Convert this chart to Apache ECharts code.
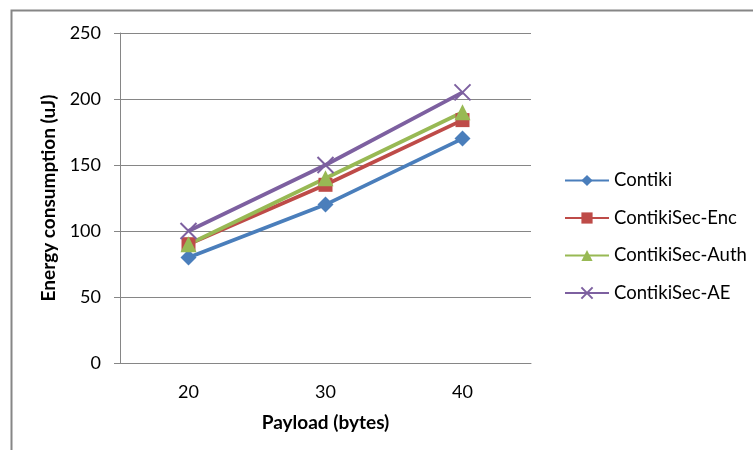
<!DOCTYPE html>
<html><head><meta charset="utf-8">
<script src="https://cdn.jsdelivr.net/npm/echarts@6/dist/echarts.min.js"></script>
<style>html,body{margin:0;padding:0;background:#fff}#c{width:753px;height:450px}</style>
</head><body><div id="c"></div>
<script>
const categories = ['20', '30', '40'];
const contiki = [80, 120, 170];
const contikiSecEnc = [90, 135, 184];
const contikiSecAuth = [90, 140, 190];
const contikiSecAE = [100, 150, 205];
const seriesNames = ['Contiki', 'ContikiSec-Enc', 'ContikiSec-Auth', 'ContikiSec-AE'];

const font = 'Lato, "Open Sans", sans-serif';
const crossPath = 'path://M0,0 L10,10 M10,0 L0,10';
const chart = echarts.init(document.getElementById('c'), null, {renderer: 'canvas'});
chart.setOption({
  animation: false,
  textStyle: {fontFamily: font},
  graphic: [{
    type: 'rect', shape: {x: 11.5, y: 10.5, width: 800, height: 500},
    style: {fill: 'none', stroke: '#868686', lineWidth: 2}, z: -1
  }],
  grid: {left: 120, right: 222, top: 33, bottom: 87, containLabel: false},
  legend: {
    orient: 'vertical', left: 559, top: 166, itemGap: 18.5,
    itemWidth: 44, itemHeight: 14,
    textStyle: {fontSize: 18.5, color: '#000', fontFamily: font},
    data: seriesNames
  },
  xAxis: {
    type: 'category', data: categories, boundaryGap: true,
    name: 'Payload (bytes)', nameLocation: 'middle', nameGap: 50,
    nameTextStyle: {fontSize: 19, fontWeight: 'bold', color: '#000'},
    axisLine: {lineStyle: {color: '#868686', width: 1}},
    axisTick: {show: false},
    axisLabel: {fontSize: 18, color: '#000', margin: 20}
  },
  yAxis: {
    type: 'value', min: 0, max: 250, interval: 50,
    name: 'Energy consumption (uJ)', nameLocation: 'middle', nameGap: 59,
    nameTextStyle: {fontSize: 19, fontWeight: 'bold', color: '#000'},
    axisLine: {show: true, lineStyle: {color: '#868686', width: 1}},
    axisTick: {show: true, length: 6, lineStyle: {color: '#868686'}},
    axisLabel: {fontSize: 18, color: '#000', margin: 19},
    splitLine: {lineStyle: {color: '#868686', width: 1}}
  },
  series: [
    {name: seriesNames[0], type: 'line', data: contiki, symbol: 'diamond', symbolSize: 16,
     lineStyle: {color: '#4A7EBB', width: 3.8}, itemStyle: {color: '#4A7EBB'}},
    {name: seriesNames[1], type: 'line', data: contikiSecEnc, symbol: 'rect', symbolSize: 14,
     lineStyle: {color: '#BE4B48', width: 3.8}, itemStyle: {color: '#BE4B48'}},
    {name: seriesNames[2], type: 'line', data: contikiSecAuth, symbol: 'triangle', symbolSize: 16,
     lineStyle: {color: '#98B954', width: 3.8}, itemStyle: {color: '#98B954'}},
    {name: seriesNames[3], type: 'line', data: contikiSecAE, symbol: crossPath, symbolSize: 16,
     lineStyle: {color: '#7D60A0', width: 3.8},
     itemStyle: {color: 'none', borderColor: '#7D60A0', borderWidth: 2}}
  ]
});
</script></body></html>
